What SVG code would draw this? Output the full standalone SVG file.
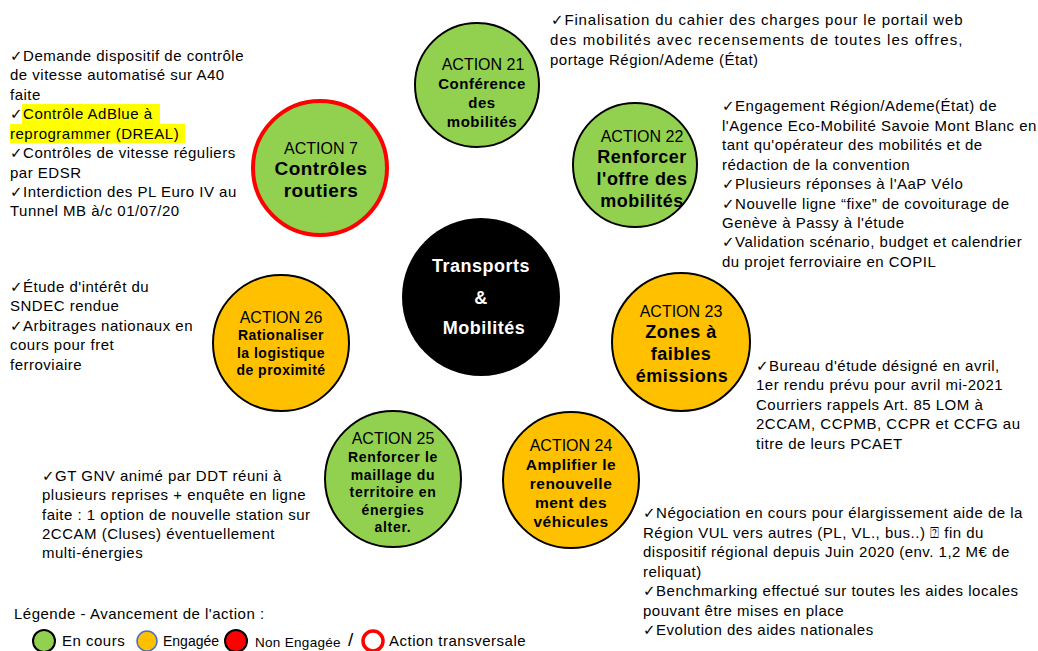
<svg xmlns="http://www.w3.org/2000/svg" width="1038" height="651" viewBox="0 0 1038 651">
<style>
.t{font-family:"Liberation Sans","DejaVu Sans",sans-serif;font-size:15px;letter-spacing:0.5px;fill:#000}
.c{font-family:"Liberation Sans","DejaVu Sans",sans-serif;text-anchor:middle;fill:#000}
.a{font-size:16px}
.b{font-weight:bold;letter-spacing:0.5px}
.g{fill:#92D050;stroke:#000;stroke-width:2}
.o{fill:#FFC000;stroke:#000;stroke-width:2}
.hl{fill:#FFFF00}
</style>
<rect width="1038" height="651" fill="#fff"/>
<g id="connectors"></g>

<g id="center">
<circle cx="481" cy="297" r="79" fill="#000"/>
<text class="c b" font-size="18" style="fill:#fff"><tspan x="481" y="272">Transports</tspan><tspan x="481" y="304">&amp;</tspan><tspan x="484" y="334">Mobilités</tspan></text>
</g>

<g id="action21">
<circle class="g" cx="477" cy="85" r="62"/>
<text class="c"><tspan class="a" x="483" y="70">ACTION 21</tspan><tspan class="b" font-size="15" x="482" y="89">Conférence</tspan><tspan class="b" font-size="15" x="482" y="108">des</tspan><tspan class="b" font-size="15" x="482" y="127">mobilités</tspan></text>
</g>

<g id="action7">
<circle cx="320" cy="168" r="67" fill="#92D050" stroke="#FF0000" stroke-width="4"/>
<text class="c"><tspan font-size="16" x="321" y="154">ACTION 7</tspan><tspan class="b" font-size="19" x="321" y="175">Contrôles</tspan><tspan class="b" font-size="19" x="321" y="197">routiers</tspan></text>
</g>

<g id="action22">
<circle class="g" cx="635" cy="165" r="62"/>
<text class="c"><tspan class="a" x="642" y="142">ACTION 22</tspan><tspan class="b" font-size="18" x="642" y="163">Renforcer</tspan><tspan class="b" font-size="18" x="642" y="185">l'offre des</tspan><tspan class="b" font-size="18" x="642" y="207">mobilités</tspan></text>
</g>

<g id="action26">
<circle class="o" cx="281" cy="343" r="68"/>
<text class="c"><tspan class="a" x="281" y="323">ACTION 26</tspan><tspan class="b" font-size="14" x="281" y="340">Rationaliser</tspan><tspan class="b" font-size="14" x="281" y="358">la logistique</tspan><tspan class="b" font-size="14" x="281" y="375">de proximité</tspan></text>
</g>

<g id="action23">
<circle class="o" cx="681" cy="342" r="69"/>
<text class="c"><tspan class="a" x="681" y="317">ACTION 23</tspan><tspan class="b" font-size="18" x="681" y="338">Zones à</tspan><tspan class="b" font-size="18" x="681" y="360">faibles</tspan><tspan class="b" font-size="18" x="682" y="382">émissions</tspan></text>
</g>

<g id="action25">
<circle class="g" cx="393" cy="479" r="68"/>
<text class="c"><tspan class="a" x="393" y="444">ACTION 25</tspan><tspan class="b" font-size="14" x="393" y="462" style="letter-spacing:0.7px">Renforcer le</tspan><tspan class="b" font-size="14" x="393" y="480" style="letter-spacing:0.7px">maillage du</tspan><tspan class="b" font-size="14" x="393" y="497" style="letter-spacing:0.7px">territoire en</tspan><tspan class="b" font-size="14" x="393" y="515" style="letter-spacing:0.7px">énergies</tspan><tspan class="b" font-size="14" x="393" y="532" style="letter-spacing:0.7px">alter.</tspan></text>
</g>

<g id="action24">
<circle class="o" cx="571" cy="480" r="68"/>
<text class="c"><tspan class="a" x="571" y="451">ACTION 24</tspan><tspan class="b" font-size="15.5" x="571" y="470">Amplifier le</tspan><tspan class="b" font-size="15.5" x="571" y="489">renouvelle</tspan><tspan class="b" font-size="15.5" x="571" y="508">ment des</tspan><tspan class="b" font-size="15.5" x="571" y="527">véhicules</tspan></text>
</g>

<g id="note7">
<rect class="hl" x="22" y="104" width="138" height="20"/>
<rect class="hl" x="10" y="124" width="175" height="19"/>
<text class="t"><tspan x="10" y="61">✓Demande dispositif de contrôle</tspan><tspan x="10" y="80">de vitesse automatisé sur A40</tspan><tspan x="10" y="100">faite</tspan><tspan x="10" y="119">✓Contrôle AdBlue à</tspan><tspan x="10" y="139">reprogrammer (DREAL)</tspan><tspan x="10" y="158">✓Contrôles de vitesse réguliers</tspan><tspan x="10" y="178">par EDSR</tspan><tspan x="10" y="197">✓Interdiction des PL Euro IV au</tspan><tspan x="10" y="216">Tunnel MB à/c 01/07/20</tspan></text>
</g>

<g id="note21">
<text class="t"><tspan x="551" y="25" textLength="412" lengthAdjust="spacing">✓Finalisation du cahier des charges pour le portail web</tspan><tspan x="550" y="45" textLength="413" lengthAdjust="spacing">des mobilités avec recensements de toutes les offres,</tspan><tspan x="550" y="65">portage Région/Ademe (État)</tspan></text>
</g>

<g id="note22">
<text class="t"><tspan x="722" y="111">✓Engagement Région/Ademe(État) de</tspan><tspan x="722" y="131">l'Agence Eco-Mobilité Savoie Mont Blanc en</tspan><tspan x="722" y="150">tant qu'opérateur des mobilités et de</tspan><tspan x="722" y="170">rédaction de la convention</tspan><tspan x="722" y="189">✓Plusieurs réponses à l'AaP Vélo</tspan><tspan x="722" y="209">✓Nouvelle ligne “fixe” de covoiturage de</tspan><tspan x="722" y="228">Genève à Passy à l'étude</tspan><tspan x="722" y="247">✓Validation scénario, budget et calendrier</tspan><tspan x="722" y="267">du projet ferroviaire en COPIL</tspan></text>
</g>

<g id="note26">
<text class="t"><tspan x="10" y="292">✓Étude d'intérêt du</tspan><tspan x="10" y="311">SNDEC rendue</tspan><tspan x="10" y="331">✓Arbitrages nationaux en</tspan><tspan x="10" y="350">cours pour fret</tspan><tspan x="10" y="370">ferroviaire</tspan></text>
</g>

<g id="note23">
<text class="t"><tspan x="756" y="371">✓Bureau d'étude désigné en avril,</tspan><tspan x="756" y="390">1er rendu prévu pour avril mi-2021</tspan><tspan x="756" y="410">Courriers rappels Art. 85 LOM à</tspan><tspan x="756" y="429">2CCAM, CCPMB, CCPR et CCFG au</tspan><tspan x="756" y="449">titre de leurs PCAET</tspan></text>
</g>

<g id="note25">
<text class="t"><tspan x="42" y="481">✓GT GNV animé par DDT réuni à</tspan><tspan x="42" y="500">plusieurs reprises + enquête en ligne</tspan><tspan x="42" y="520">faite : 1 option de nouvelle station sur</tspan><tspan x="42" y="539">2CCAM (Cluses) éventuellement</tspan><tspan x="42" y="558">multi-énergies</tspan></text>
</g>

<g id="note24">
<text class="t"><tspan x="643" y="518">✓Négociation en cours pour élargissement aide de la</tspan><tspan x="643" y="538">Région VUL vers autres (PL, VL., bus..) ⍰ fin du</tspan><tspan x="643" y="557">dispositif régional depuis Juin 2020 (env. 1,2 M€ de</tspan><tspan x="643" y="577">reliquat)</tspan><tspan x="643" y="596">✓Benchmarking effectué sur toutes les aides locales</tspan><tspan x="643" y="616">pouvant être mises en place</tspan><tspan x="643" y="635">✓Evolution des aides nationales</tspan></text>
</g>

<g id="legend">
<text class="t" x="14" y="619">Légende - Avancement de l'action :</text>
<circle cx="44" cy="641" r="11" fill="#92D050" stroke="#000" stroke-width="2"/>
<text class="t" x="62" y="646">En cours</text>
<circle cx="147" cy="641" r="10" fill="#FFC000" stroke="#4472C4" stroke-width="1.5"/>
<text class="t" style="font-size:14px;letter-spacing:0" x="163" y="646">Engagée</text>
<circle cx="236" cy="641" r="11" fill="#FF0000" stroke="#000" stroke-width="2"/>
<text class="t" style="font-size:13.5px;letter-spacing:0.3px" x="255" y="647">Non Engagée</text>
<text class="t" style="font-size:19px;letter-spacing:0" x="348" y="646">/</text>
<circle cx="373" cy="641" r="10" fill="#fff" stroke="#FF0000" stroke-width="3.5"/>
<text class="t" x="389" y="646">Action transversale</text>
</g>
</svg>
